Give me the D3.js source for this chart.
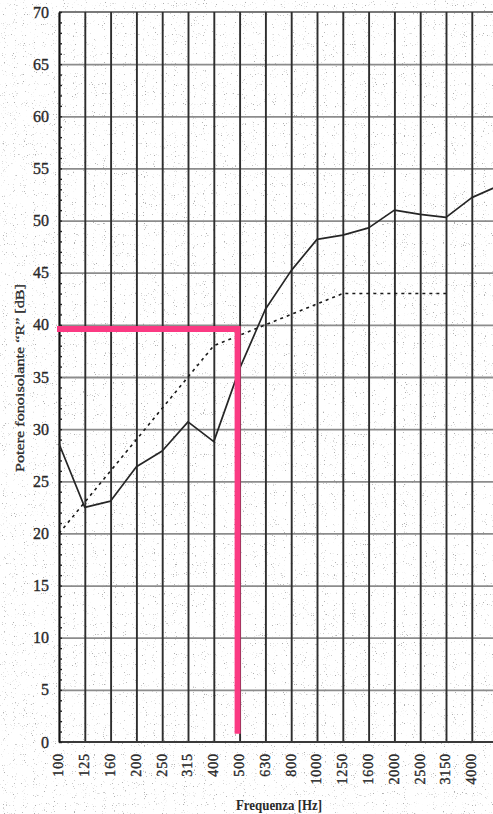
<!DOCTYPE html>
<html>
<head>
<meta charset="utf-8">
<script src="https://cdn.jsdelivr.net/npm/d3@7"></script>
<style>
  html, body { margin: 0; padding: 0; background: #fff; }
  svg { display: block; }
</style>
</head>
<body>
<svg id="chart" width="493" height="814"></svg>
<script>
// Third-octave frequency bands (Hz)
const frequencies = ["100","125","160","200","250","315","400","500","630","800","1000","1250","1600","2000","2500","3150","4000","5000"];
// Measured sound reduction index R (dB)
const measuredR = [28.6, 22.5, 23.1, 26.4, 27.9, 30.7, 28.8, 35.8, 41.5, 45.2, 48.2, 48.6, 49.3, 51.0, 50.6, 50.3, 52.2, 53.3];
// Shifted reference curve (100 – 3150 Hz)
const referenceBands = ["100","125","160","200","250","315","400","500","630","800","1000","1250","1600","2000","2500","3150"];
const referenceR = [20, 23, 26, 29, 32, 35, 38, 39, 40, 41, 42, 43, 43, 43, 43, 43];
// Read-off marker: level and band
const markerBand = "500";
const markerLevel = 39.6;
const markerFloor = 0.8;
// Axis ticks
const yTicks = [0, 5, 10, 15, 20, 25, 30, 35, 40, 45, 50, 55, 60, 65, 70];
const yMinorTicks = d3.range(0, 71, 1);

const W = 493, H = 814;
const svg = d3.select("#chart");

const x = d3.scalePoint().domain(frequencies).range([59, 59 + 17 * 25.8]);
const y = d3.scaleLinear().domain([0, 70]).range([742, 12]);
const visibleBands = frequencies.filter(f => x(f) <= W);

const serif = "'Liberation Serif', 'DejaVu Serif', serif";

// Paper grain
const defs = svg.append("defs");
const grain = defs.append("filter").attr("id", "grain")
  .attr("x", 0).attr("y", 0).attr("width", "100%").attr("height", "100%");
grain.append("feTurbulence")
  .attr("type", "fractalNoise").attr("baseFrequency", 0.9)
  .attr("numOctaves", 1).attr("seed", 7).attr("result", "n");
grain.append("feColorMatrix").attr("in", "n").attr("type", "matrix")
  .attr("values", "0 0 0 0 0.3  0 0 0 0 0.3  0 0 0 0 0.3  10 0 0 0 -6.6");
svg.append("rect")
  .attr("width", W).attr("height", H)
  .attr("filter", "url(#grain)")
  .attr("opacity", 0.75);

// Horizontal grid
const gy = svg.append("g")
  .attr("transform", `translate(${x("100")},0)`)
  .call(d3.axisLeft(y).tickValues(yTicks.filter(v => v > 0 && v < 70)).tickSize(-(W - 59)).tickFormat(""));
gy.select(".domain").remove();
gy.selectAll(".tick line").attr("stroke", "#8c8c8c").attr("stroke-width", 1.8);

// Top border
svg.append("line")
  .attr("x1", x("100")).attr("x2", W)
  .attr("y1", y(70)).attr("y2", y(70))
  .attr("stroke", "#7a7a7a").attr("stroke-width", 2);

// Vertical grid
const gx = svg.append("g")
  .attr("transform", `translate(0,${y(0)})`)
  .call(d3.axisBottom(x).tickValues(visibleBands.slice(1)).tickSize(-(y(0) - y(70))).tickFormat(""));
gx.select(".domain").remove();
gx.selectAll(".tick line").attr("stroke", "#2e2e2e").attr("stroke-width", 1.9);

// Bottom axis line
svg.append("line")
  .attr("x1", x("100")).attr("x2", W)
  .attr("y1", y(0)).attr("y2", y(0))
  .attr("stroke", "#3a3a3a").attr("stroke-width", 2.2);

// Left axis with minor ticks
const gLeft = svg.append("g")
  .attr("transform", `translate(${x("100")},0)`)
  .call(d3.axisLeft(y).tickValues(yMinorTicks).tickSize(-3).tickFormat("").tickSizeOuter(0));
gLeft.select(".domain").attr("stroke", "#111").attr("stroke-width", 2.2);
gLeft.selectAll(".tick line").attr("stroke", "#222").attr("stroke-width", 1.4);

// Y tick labels
const yLab = svg.append("g")
  .attr("transform", `translate(${x("100") - 10},0)`)
  .call(d3.axisLeft(y).tickValues(yTicks).tickSize(0).tickPadding(0));
yLab.select(".domain").remove();
yLab.selectAll("text")
  .attr("font-family", serif).attr("font-size", 16).attr("fill", "#2a2a2a")
  .attr("stroke", "#2a2a2a").attr("stroke-width", 0.35);

// X tick labels (rotated)
const xLab = svg.append("g")
  .attr("transform", `translate(0,${y(0)})`)
  .call(d3.axisBottom(x).tickValues(visibleBands).tickSize(0).tickPadding(0));
xLab.select(".domain").remove();
xLab.selectAll("text")
  .attr("font-family", serif).attr("font-size", 14).attr("fill", "#2a2a2a")
  .attr("stroke", "#2a2a2a").attr("stroke-width", 0.35)
  .attr("letter-spacing", 0.9)
  .attr("text-anchor", "end")
  .attr("dy", "0.35em")
  .attr("transform", "translate(-1,11) rotate(-90)")
  .attr("x", 0).attr("y", 0);

// Reference curve (dotted)
const line = d3.line().x(d => x(d[0])).y(d => y(d[1]));
svg.append("path")
  .datum(referenceBands.map((f, i) => [f, referenceR[i]]))
  .attr("d", line)
  .attr("fill", "none")
  .attr("stroke", "#1a1a1a").attr("stroke-width", 1.6)
  .attr("stroke-dasharray", "3,4");

// Measured curve
svg.append("path")
  .datum(frequencies.map((f, i) => [f, measuredR[i]]))
  .attr("d", line)
  .attr("fill", "none")
  .attr("stroke", "#262626").attr("stroke-width", 1.7)
  .attr("stroke-linejoin", "round");

// Read-off marker
const mx = x(markerBand) - 2;
svg.append("path")
  .attr("d", `M${x("100") - 2},${y(markerLevel)} H${mx} V${y(markerFloor)}`)
  .attr("fill", "none")
  .attr("stroke", "#fb3a83").attr("stroke-width", 6)
  .attr("stroke-linejoin", "miter");

// Axis titles
svg.append("text")
  .attr("transform", `translate(24,378) rotate(-90)`)
  .attr("text-anchor", "middle")
  .attr("font-family", serif).attr("font-size", 13.5).attr("fill", "#2a2a2a")
  .attr("stroke", "#2a2a2a").attr("stroke-width", 0.3)
  .attr("textLength", 188).attr("lengthAdjust", "spacingAndGlyphs")
  .text("Potere fonoisolante \u201CR\u201D [dB]");

svg.append("text")
  .attr("x", 279).attr("y", 810)
  .attr("text-anchor", "middle")
  .attr("font-family", serif).attr("font-size", 15).attr("font-weight", "bold").attr("fill", "#2a2a2a")
  .attr("textLength", 86).attr("lengthAdjust", "spacingAndGlyphs")
  .text("Frequenza [Hz]");
</script>
</body>
</html>
